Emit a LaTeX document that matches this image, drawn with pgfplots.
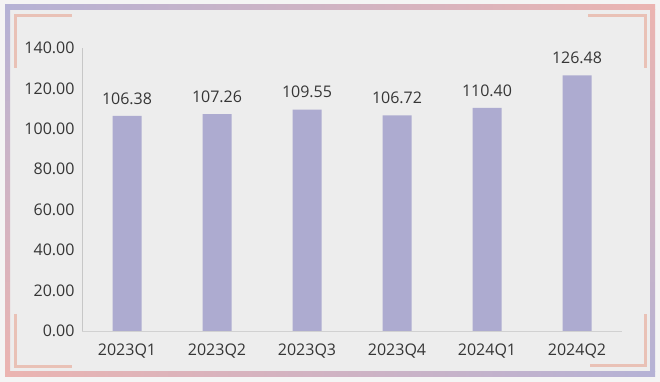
\documentclass[border=0pt]{standalone}
\usepackage{fontspec}
\setmainfont{Open Sans}
\usepackage{pgfplots}
\pgfplotsset{compat=1.18}
\definecolor{outerbg}{HTML}{F4F4F4}
\definecolor{bg}{HTML}{EDEDED}
\definecolor{bpurple}{HTML}{B5B2D5}
\definecolor{bpink}{HTML}{EBB4B1}
\definecolor{brack}{HTML}{E9C1B6}
\definecolor{barc}{HTML}{ADABD0}
\definecolor{tickc}{HTML}{363636}
\begin{document}
\begin{tikzpicture}[x=1pt,y=1pt]
\useasboundingbox (0,0) rectangle (660,382);
\fill[outerbg] (0,0) rectangle (660,382);
\fill[bg] (10,10) rectangle (650,372);
% border edges with gradients
\shade[left color=bpurple, right color=bpink] (5,372) rectangle (655,377);
\shade[left color=bpink, right color=bpurple] (5,5) rectangle (655,10);
\shade[top color=bpurple, bottom color=bpink] (5,10) rectangle (10,372);
\shade[top color=bpink, bottom color=bpurple] (650,10) rectangle (655,372);
% corner brackets
\draw[brack, line width=3pt] (15.5,314) -- (15.5,366.5) -- (72,366.5);
\draw[brack, line width=3pt] (588,366.5) -- (645,366.5) -- (645,314);
\draw[brack, line width=3pt] (15.5,68) -- (15.5,15.5) -- (72,15.5);
\draw[brack, line width=3pt] (590,16) -- (645,16) -- (645,68);
\begin{axis}[
  at={(82pt,51pt)}, anchor=south west,
  scale only axis, width=540pt, height=283pt,
  xmin=-0.5, xmax=5.5, ymin=0, ymax=140,
  axis x line*=bottom, axis y line*=left,
  x axis line style={draw=black!18, -},
  y axis line style={draw=black!22, -},
  major tick length=0pt,
  xtick={0,1,2,3,4,5},
  xticklabels={2023Q1,2023Q2,2023Q3,2023Q4,2024Q1,2024Q2},
  ytick={0,20,40,60,80,100,120,140},
  /pgf/number format/assume math mode=true,
  yticklabel style={/pgf/number format/fixed, /pgf/number format/fixed zerofill, /pgf/number format/precision=2, xshift=-4pt},
  xticklabel style={yshift=-9pt},
  tick label style={font=\fontsize{16}{18}\selectfont, text=tickc},
  ybar, bar width=29pt,
  nodes near coords,
  nodes near coords style={font=\fontsize{16}{18}\selectfont, text=tickc, yshift=8pt,
    /pgf/number format/fixed, /pgf/number format/fixed zerofill, /pgf/number format/precision=2},
]
\addplot[fill=barc, draw=none] coordinates {(0,106.38) (1,107.26) (2,109.55) (3,106.72) (4,110.40) (5,126.48)};
\end{axis}
\end{tikzpicture}
\end{document}
